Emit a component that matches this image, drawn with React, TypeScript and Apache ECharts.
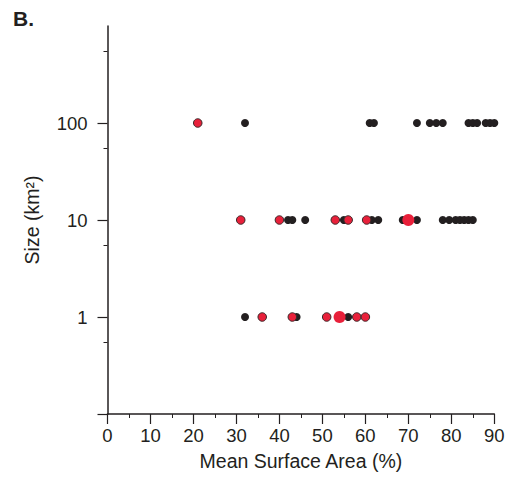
import React, { useEffect, useRef } from "react";
import * as echarts from "echarts";

// Mean surface area (%) per size class (km²)
const blackX100 = [32, 61, 62, 72, 75, 76.5, 78, 84, 85, 86, 88, 89, 90];
const redX100 = [21];
const blackX10 = [42, 43, 46, 55, 61.5, 63, 68.7, 72, 78, 79.5, 81, 82, 83, 84, 85];
const redX10 = [31, 40, 53, 56, 60.3];
const blackX1 = [32, 44, 56];
const redX1 = [36, 43, 51, 58, 60];
const bigRedPoints: [number, number][] = [
  [70, 10],
  [54, 1],
];
const xTicks = [0, 10, 20, 30, 40, 50, 60, 70, 80, 90];
const yTickValues = [0.1, 1, 10, 100];
const yLabelValues = [1, 10, 100];

const DARK = "#231f20";
const RED = "#e8203a";
const FONT = "'Liberation Sans', Arial, sans-serif";

function toPts(xs: number[], y: number): [number, number][] {
  return xs.map((x) => [x, y]);
}

export default function App() {
  const ref = useRef<HTMLDivElement>(null);
  useEffect(() => {
    if (!ref.current) return;
    const chart = echarts.init(ref.current, undefined, { renderer: "svg" });
    const black = [
      ...toPts(blackX100, 100),
      ...toPts(blackX10, 10),
      ...toPts(blackX1, 1),
    ];
    const red = [...toPts(redX100, 100), ...toPts(redX10, 10), ...toPts(redX1, 1)];
    chart.setOption({
      animation: false,
      textStyle: { fontFamily: FONT },
      graphic: [
        {
          type: "text",
          left: 13,
          top: 8,
          style: { text: "B.", font: `bold 21px ${FONT}`, fill: DARK },
        },
      ],
      grid: { left: 107.5, right: 13.7, top: 26, bottom: 79 },
      xAxis: {
        type: "value",
        min: 0,
        max: 90,
        interval: 10,
        name: "Mean Surface Area (%)",
        nameLocation: "middle",
        nameGap: 37,
        nameTextStyle: { fontSize: 19.5, color: DARK, fontFamily: FONT },
        axisLine: { show: true, onZero: false, lineStyle: { color: DARK, width: 1.5 } },
        axisTick: { show: true, length: 10, lineStyle: { color: DARK, width: 1.2 } },
        minorTick: { show: true, splitNumber: 2, length: 4, lineStyle: { color: DARK, width: 1 } },
        axisLabel: {
          fontSize: 18.5,
          color: DARK,
          margin: 12,
          fontFamily: FONT,
          formatter: (v: number) => (xTicks.includes(v) ? String(v) : ""),
        },
        splitLine: { show: false },
      },
      yAxis: {
        type: "log",
        logBase: 10,
        min: 0.1,
        max: 1000,
        name: "Size (km²)",
        nameLocation: "middle",
        nameGap: 66,
        nameTextStyle: { fontSize: 19.5, color: DARK, fontFamily: FONT },
        axisLine: { show: true, onZero: false, lineStyle: { color: DARK, width: 1.5 } },
        axisTick: {
          show: true,
          length: 10,
          customValues: yTickValues,
          lineStyle: { color: DARK, width: 1.2 },
        },
        minorTick: { show: true, splitNumber: 2, length: 4, lineStyle: { color: DARK, width: 1 } },
        axisLabel: {
          fontSize: 18.5,
          color: DARK,
          margin: 20,
          fontFamily: FONT,
          formatter: (v: number) => {
            const hit = yLabelValues.find((t) => Math.abs(t - v) < t * 0.01);
            return hit !== undefined ? String(hit) : "";
          },
        },
        splitLine: { show: false },
      },
      series: [
        {
          type: "scatter",
          data: black,
          symbolSize: 8,
          itemStyle: { color: DARK, opacity: 1 },
          z: 2,
        },
        {
          type: "scatter",
          data: red,
          symbolSize: 8.5,
          itemStyle: { color: RED, borderColor: "#3a2a2a", borderWidth: 1, opacity: 1 },
          z: 3,
        },
        {
          type: "scatter",
          data: bigRedPoints,
          symbolSize: 12,
          itemStyle: { color: RED, opacity: 1 },
          z: 4,
        },
      ],
    });
    return () => chart.dispose();
  }, []);
  return (
    <div
      ref={ref}
      style={{ position: "fixed", left: 0, top: 0, width: 508, height: 493, background: "#fff" }}
    />
  );
}
